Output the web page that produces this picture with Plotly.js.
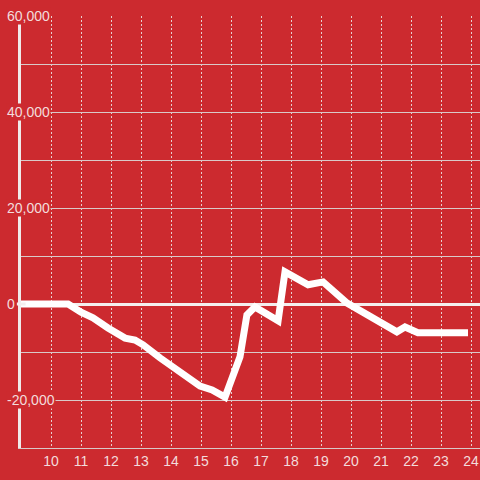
<!DOCTYPE html>
<html>
<head>
<meta charset="utf-8">
<script src="https://cdn.plot.ly/plotly-3.0.1.min.js"></script>
<style>
html,body{margin:0;padding:0;background:#cc2a2f;}
#chart{width:480px;height:480px;}
</style>
</head>
<body>
<div id="chart"></div>
<script>
// Data
const hours = [9, 10.57, 11.0, 11.4, 11.9, 12.47, 12.8, 13.07, 13.63, 14.97, 15.37, 15.8, 16.3, 16.53, 16.8, 17.57, 17.8, 18.57, 19.07, 19.87, 21.53, 21.8, 22.23, 23.9];
const values = [0, 0, -1700, -2900, -5000, -7100, -7500, -8500, -11200, -17100, -17900, -19400, -11000, -2300, -600, -3500, 6700, 4000, 4600, 200, -5800, -4800, -6000, -6000];
const xTicks = [10, 11, 12, 13, 14, 15, 16, 17, 18, 19, 20, 21, 22, 23, 24];
const yLabelValues = [60000, 40000, 20000, 0, -20000];
const yLabelTexts = ["60,000", "40,000", "20,000", "0", "-20,000"];

const BG = '#cc2a2f';
const TXT = '#f3dcdc';

const annotations = yLabelValues.map((v, i) => ({
  xref: 'paper', yref: 'y',
  x: -0.033, y: v,
  xanchor: 'left', yanchor: 'middle',
  text: yLabelTexts[i],
  showarrow: false,
  bgcolor: BG,
  borderpad: 0,
  font: {family: 'Liberation Sans, Arial, sans-serif', size: 14, color: TXT}
}));

const trace = {
  x: hours, y: values,
  type: 'scatter', mode: 'lines',
  line: {color: '#ffffff', width: 7},
  hoverinfo: 'skip'
};

const layout = {
  width: 480, height: 480,
  margin: {l: 21, r: 0, t: 16, b: 32, pad: 0},
  paper_bgcolor: BG, plot_bgcolor: BG,
  showlegend: false,
  font: {family: 'Liberation Sans, Arial, sans-serif', size: 14, color: TXT},
  xaxis: {
    range: [9, 24.3],
    tickvals: xTicks,
    ticktext: xTicks.map(String),
    showgrid: true, gridcolor: '#e6d0d0', gridwidth: 1, griddash: '2px,2px',
    zeroline: false,
    showline: true, linecolor: '#d8c8c8', linewidth: 1,
    ticks: '', ticklen: 0,
    tickfont: {size: 14, color: TXT},
    fixedrange: true
  },
  yaxis: {
    range: [-30000, 60000],
    dtick: 10000, tick0: 0,
    showgrid: true, gridcolor: '#d9c9c9', gridwidth: 1,
    zeroline: true, zerolinecolor: '#f4eeee', zerolinewidth: 3,
    showline: true, linecolor: '#f0eaea', linewidth: 3,
    showticklabels: false, ticks: '',
    fixedrange: true
  },
  shapes: [{
    type: 'line', xref: 'paper', yref: 'y',
    x0: -0.009, x1: 0.01, y0: 0, y1: 0,
    line: {color: '#f4eeee', width: 3},
    layer: 'above'
  }],
  annotations: annotations
};

Plotly.newPlot('chart', [trace], layout, {displayModeBar: false, staticPlot: true});
</script>
</body>
</html>
